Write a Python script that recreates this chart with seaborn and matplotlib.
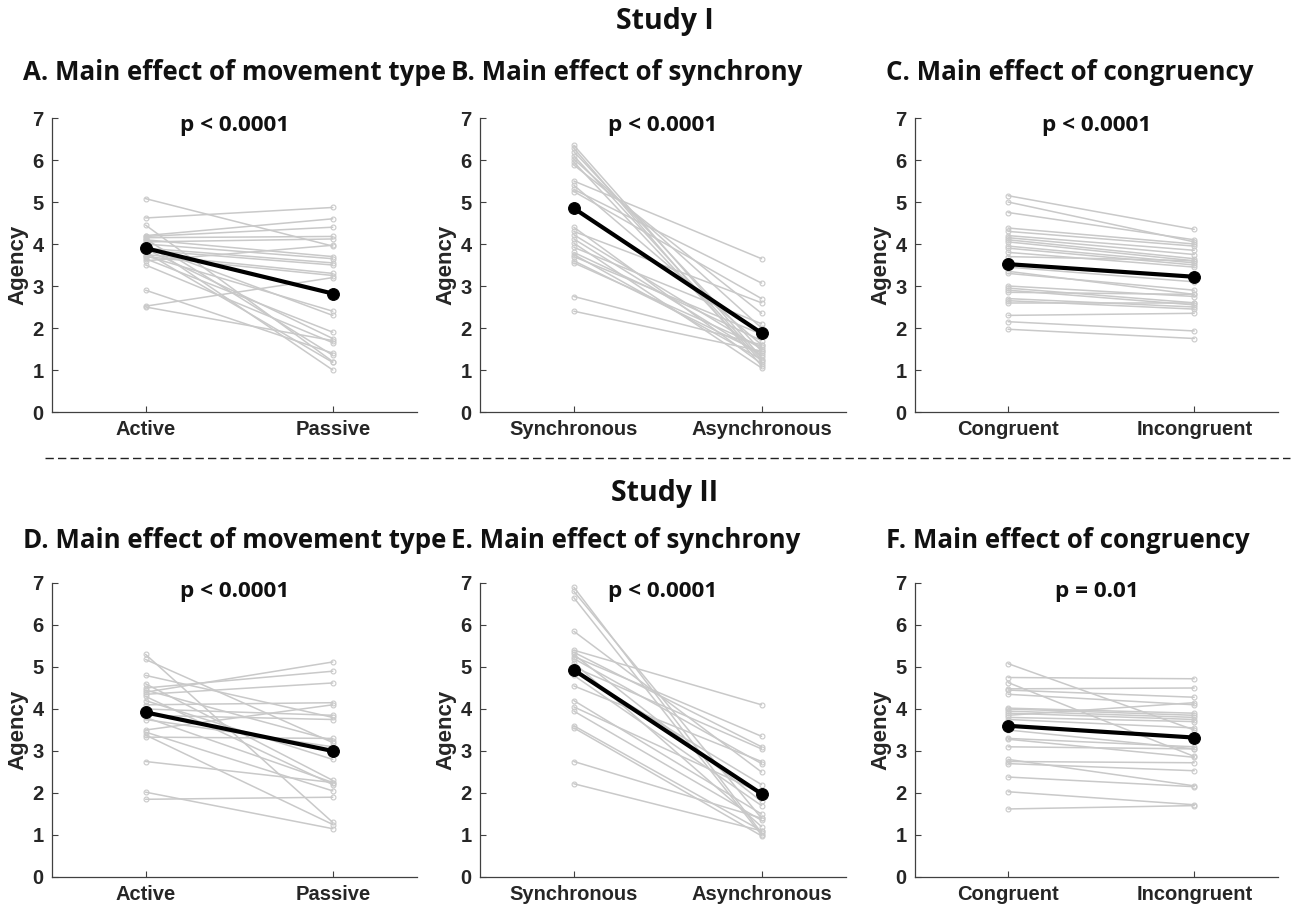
import numpy as np
import pandas as pd
import matplotlib
matplotlib.use("Agg")
import matplotlib.pyplot as plt
import seaborn as sns

# ---------------- data ----------------
A_labels = ["Active", "Passive"]
A_left = [5.08, 4.62, 4.45, 4.20, 4.18, 4.15, 4.12, 4.10, 4.05, 4.02, 4.00, 3.95, 3.90,
          3.88, 3.85, 3.80, 3.75, 3.72, 3.70, 3.65, 3.60, 3.50, 2.90, 2.52, 2.50]
A_right = [3.95, 4.87, 1.20, 4.60, 4.40, 4.18, 1.35, 3.70, 4.12, 1.00, 3.65, 2.30, 3.55,
           1.75, 3.50, 1.18, 3.30, 2.40, 3.25, 1.90, 3.97, 1.65, 1.40, 3.20, 1.70]
A_mean = [3.90, 2.82]

B_labels = ["Synchronous", "Asynchronous"]
B_left = [6.35, 6.28, 6.20, 6.10, 6.02, 5.95, 5.88, 5.50, 5.40, 5.30, 5.25, 4.40, 4.30,
          4.22, 4.12, 4.02, 3.92, 3.80, 3.75, 3.70, 3.60, 3.55, 2.75, 2.40]
B_right = [1.30, 1.10, 1.45, 1.25, 2.00, 1.20, 2.35, 3.65, 1.60, 3.07, 2.70, 1.15, 2.60,
           1.50, 1.35, 1.05, 2.10, 1.70, 1.25, 1.85, 1.40, 1.55, 1.60, 1.45]
B_mean = [4.85, 1.88]

C_labels = ["Congruent", "Incongruent"]
C_left = [5.15, 5.00, 4.75, 4.38, 4.30, 4.20, 4.15, 4.10, 4.05, 3.95, 3.90, 3.80, 3.70,
          3.45, 3.35, 3.30, 3.00, 2.95, 2.90, 2.85, 2.70, 2.65, 2.60, 2.30, 2.15, 1.97]
C_right = [4.35, 4.05, 4.10, 4.00, 3.95, 3.85, 3.75, 3.65, 3.60, 3.55, 3.50, 3.45, 3.60,
           3.10, 2.80, 2.90, 2.75, 2.60, 2.55, 2.80, 2.50, 2.45, 2.60, 2.35, 1.93, 1.75]
C_mean = [3.52, 3.22]

D_labels = ["Active", "Passive"]
D_left = [5.30, 5.18, 4.80, 4.60, 4.50, 4.45, 4.40, 4.35, 4.30, 4.20, 4.10, 4.00, 3.85,
          3.80, 3.75, 3.50, 3.45, 3.38, 3.33, 2.75, 2.02, 1.85]
D_right = [1.30, 3.20, 3.80, 2.30, 4.90, 3.25, 5.12, 4.62, 2.20, 2.80, 4.15, 3.85, 3.75,
           2.25, 3.10, 4.10, 2.05, 1.25, 3.30, 2.25, 1.15, 1.90]
D_mean = [3.92, 3.00]

E_labels = ["Synchronous", "Asynchronous"]
E_left = [6.90, 6.80, 6.65, 5.85, 5.40, 5.35, 5.30, 5.25, 5.20, 5.10, 5.00, 4.90, 4.80,
          4.55, 4.20, 4.05, 3.95, 3.60, 3.55, 2.75, 2.22]
E_right = [1.05, 1.40, 1.00, 2.50, 4.10, 3.10, 1.80, 3.35, 2.70, 1.20, 3.05, 2.20, 1.70,
           2.75, 1.50, 2.00, 1.35, 1.10, 0.98, 1.40, 1.10]
E_mean = [4.93, 1.98]

F_labels = ["Congruent", "Incongruent"]
F_left = [5.08, 4.75, 4.63, 4.48, 4.45, 4.35, 4.02, 4.00, 3.95, 3.90, 3.85, 3.80, 3.75,
          3.50, 3.30, 3.28, 3.10, 2.80, 2.75, 2.70, 2.38, 2.03, 1.62]
F_right = [3.50, 4.72, 2.87, 4.50, 4.28, 4.10, 3.90, 3.85, 3.80, 3.75, 4.15, 3.70, 3.55,
           3.05, 3.10, 2.85, 3.05, 2.17, 2.72, 2.53, 2.15, 1.72, 1.70]
F_mean = [3.60, 3.32]

panel_titles = ["A. Main effect of movement type", "B. Main effect of synchrony",
                "C. Main effect of congruency", "D. Main effect of movement type",
                "E. Main effect of synchrony", "F. Main effect of congruency"]
p_texts = ["p < 0.0001", "p < 0.0001", "p < 0.0001", "p < 0.0001", "p < 0.0001", "p = 0.01"]
study_titles = ["Study I", "Study II"]
y_label = "Agency"

# ---------------- style ----------------
sns.set_theme(style="white")
plt.rcParams["font.family"] = ["Liberation Sans", "DejaVu Sans"]
TITLE_FONT = ["Open Sans", "DejaVu Sans"]

W, H = 1293, 906
fig = plt.figure(figsize=(W / 100, H / 100), dpi=100)

panels = [(A_labels, A_left, A_right, A_mean), (B_labels, B_left, B_right, B_mean),
          (C_labels, C_left, C_right, C_mean), (D_labels, D_left, D_right, D_mean),
          (E_labels, E_left, E_right, E_mean), (F_labels, F_left, F_right, F_mean)]

col_px = [(52, 417), (480, 846), (915, 1278)]
row_px = [(118, 412), (583, 877)]
title_x_px = [23, 451, 886]
title_y_px = [73, 540]

for i, (labels, left, right, mean) in enumerate(panels):
    r, c = divmod(i, 3)
    x0, x1 = col_px[c]
    yt, yb = row_px[r]
    ax = fig.add_axes([x0 / W, (H - yb) / H, (x1 - x0) / W, (yb - yt) / H])

    n = len(left)
    df = pd.DataFrame({
        "subject": np.concatenate([np.arange(n), np.arange(n)]),
        "cond": np.concatenate([np.ones(n), 2 * np.ones(n)]),
        "value": np.concatenate([left, right]),
    })
    sns.lineplot(data=df, x="cond", y="value", units="subject", estimator=None,
                 color="#c9c9c9", lw=1.1, marker="o", markersize=3.5,
                 markerfacecolor="none", markeredgecolor="#c9c9c9", markeredgewidth=0.8,
                 ax=ax, legend=False)
    mdf = pd.DataFrame({"cond": [1.0, 2.0], "value": mean})
    sns.lineplot(data=mdf, x="cond", y="value", color="black", lw=3.0, marker="o",
                 markersize=8.5, markeredgecolor="black", ax=ax, legend=False)

    ax.set_xlim(0.5, 2.45)
    ax.set_ylim(0, 7)
    ax.set_xticks([1, 2])
    ax.set_xticklabels(labels)
    ax.set_yticks(range(8))
    ax.set_xlabel("")
    ax.set_ylabel(y_label, fontsize=16, fontweight="bold", color="#262626")
    ax.yaxis.set_label_coords(-24 / (x1 - x0), 0.5)
    for lab in ax.get_xticklabels() + ax.get_yticklabels():
        lab.set_fontweight("bold")
        lab.set_fontsize(14.5)
        lab.set_color("#262626")
    ax.tick_params(axis="both", direction="in", length=4, width=0.8, color="#404040",
                   bottom=True, left=True, pad=6)
    sns.despine(ax=ax)
    for s in ["left", "bottom"]:
        ax.spines[s].set_color("#404040")
        ax.spines[s].set_linewidth(0.9)
    ax.grid(False)
    ax.set_facecolor("white")

    ax.text(0.5, 1 - 8 / (yb - yt), p_texts[i], transform=ax.transAxes, ha="center",
            va="center", fontsize=16.2, fontweight="bold", family=TITLE_FONT,
            color="#111111")

    fig.text(title_x_px[c] / W, (H - title_y_px[r]) / H, panel_titles[i], ha="left",
             va="center", fontsize=18.6, fontweight="bold", family=TITLE_FONT,
             color="#111111")

fig.text(665 / W, (H - 22) / H, study_titles[0], ha="center", va="center", fontsize=20.5,
         fontweight="bold", family=TITLE_FONT, color="#111111")
fig.text(665 / W, (H - 493) / H, study_titles[1], ha="center", va="center", fontsize=20.5,
         fontweight="bold", family=TITLE_FONT, color="#111111")

fig.add_artist(plt.Line2D([45 / W, 1290 / W], [(H - 458) / H, (H - 458) / H],
                          transform=fig.transFigure, color="#222222", lw=1.0,
                          linestyle=(0, (6, 3))))

fig.savefig("out.png", dpi=100, facecolor="white")
